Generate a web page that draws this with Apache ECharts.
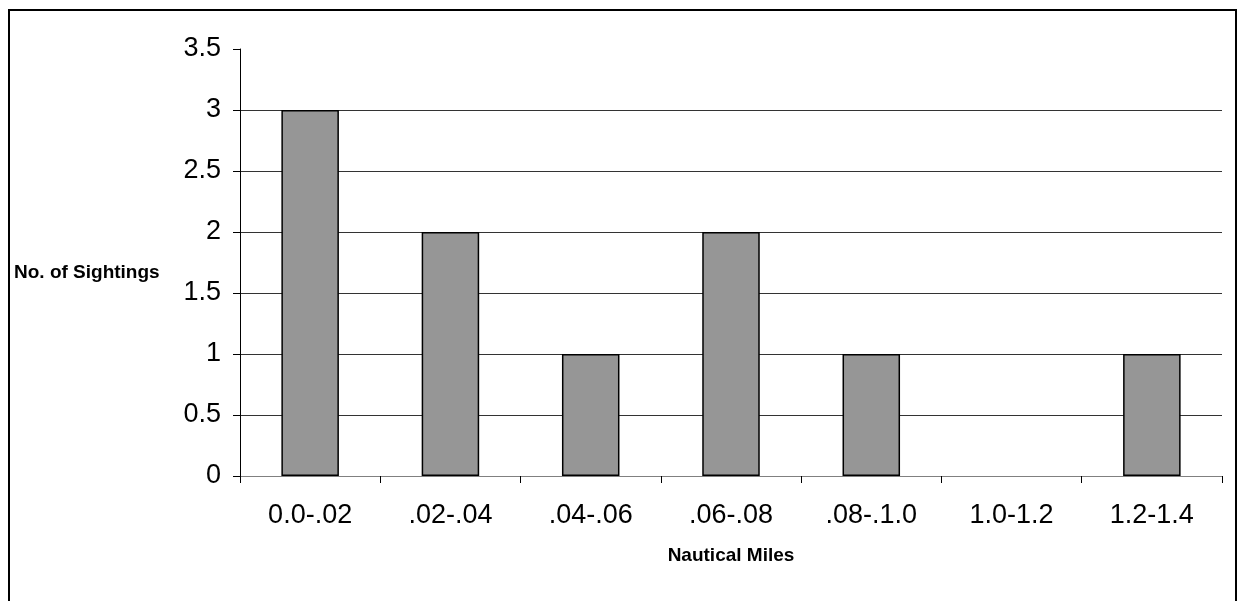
<!DOCTYPE html>
<html>
<head>
<meta charset="utf-8">
<script src="https://cdn.jsdelivr.net/npm/echarts@6/dist/echarts.min.js"></script>
<style>html,body{margin:0;padding:0;background:#fff;}#c{width:1238px;height:601px;}</style>
</head>
<body>
<div id="c"></div>
<script>
const categories = ['0.0-.02', '.02-.04', '.04-.06', '.06-.08', '.08-.1.0', '1.0-1.2', '1.2-1.4'];
const sightings = [3, 2, 1, 2, 1, 0, 1];
const yTicks = { min: 0, max: 3.5, interval: 0.5 };
const xTitle = 'Nautical Miles';
const yTitle = 'No. of Sightings';

const chart = echarts.init(document.getElementById('c'), null, { renderer: 'canvas' });
const font = '"Liberation Sans", Arial, sans-serif';
chart.setOption({
  animation: false,
  backgroundColor: '#fff',
  grid: { left: 240, right: 16, top: 49, bottom: 125, containLabel: false },
  graphic: [
    { type: 'rect', shape: { x: 9, y: 10, width: 1227, height: 640 }, style: { fill: 'none', stroke: '#000', lineWidth: 2 }, silent: true, z: -1 },
    { type: 'text', left: 14, top: 263, style: { text: yTitle, font: 'bold 19px ' + font, fill: '#000' } }
  ],
  xAxis: {
    type: 'category',
    data: categories,
    name: xTitle,
    nameLocation: 'middle',
    nameGap: 70,
    nameTextStyle: { fontFamily: font, fontWeight: 'bold', fontSize: 19, color: '#000' },
    axisLine: { lineStyle: { color: '#808080', width: 1 } },
    axisTick: { show: true, length: 7, alignWithLabel: false, lineStyle: { color: '#000' } },
    axisLabel: { fontFamily: font, fontSize: 27, color: '#000', margin: 26, interval: 0 },
    splitLine: { show: false }
  },
  yAxis: {
    type: 'value',
    min: yTicks.min,
    max: yTicks.max,
    interval: yTicks.interval,
    axisLine: { show: true, lineStyle: { color: '#000', width: 1 } },
    axisTick: { show: true, length: 7, lineStyle: { color: '#000' } },
    axisLabel: { fontFamily: font, fontSize: 27, color: '#000', margin: 19 },
    splitLine: { show: true, showMaxLine: false, lineStyle: { color: '#333', width: 1 } }
  },
  series: [{
    type: 'bar',
    data: sightings.map(v => v === 0 ? { value: v, itemStyle: { borderWidth: 0 } } : v),
    barWidth: '41%',
    itemStyle: { color: '#969696', borderColor: '#000', borderWidth: 1.5 }
  }]
});
</script>
</body>
</html>
